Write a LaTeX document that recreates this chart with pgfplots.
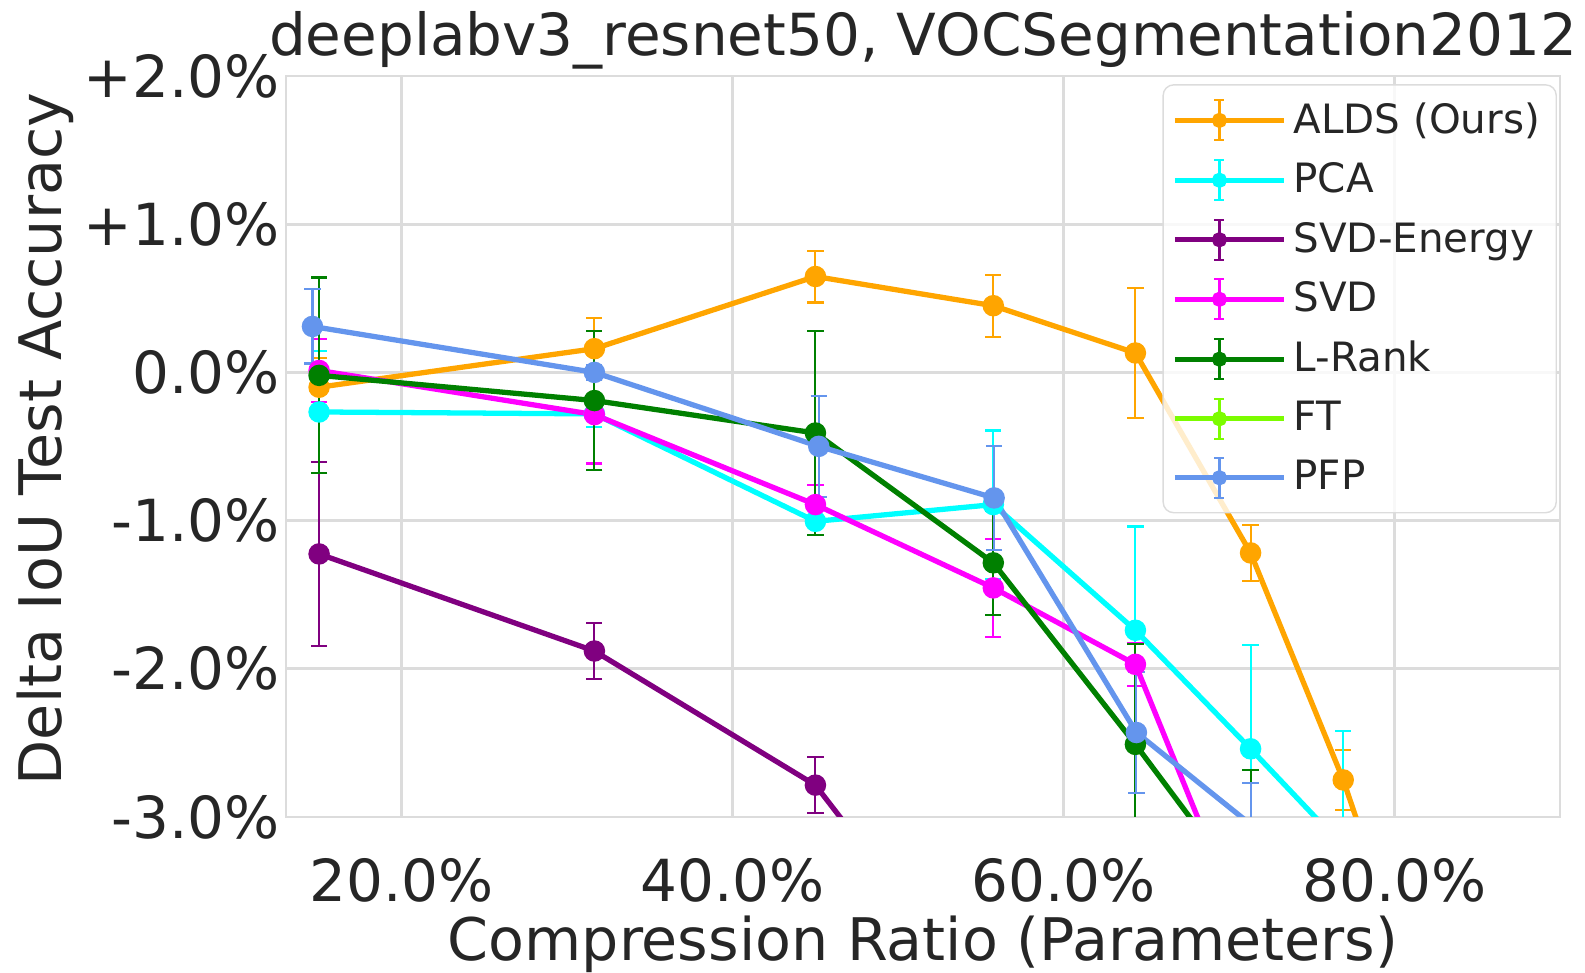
\documentclass[border=0pt]{standalone}
\usepackage{fontspec}
\setmainfont{DejaVu Sans}
\usepackage{pgfplots}
\pgfplotsset{compat=1.18}
\definecolor{txt}{HTML}{262626}
\definecolor{cALDS}{HTML}{FFA500}
\definecolor{cPCA}{HTML}{00FFFF}
\definecolor{cSVDE}{HTML}{800080}
\definecolor{cSVD}{HTML}{FF00FF}
\definecolor{cLR}{HTML}{008000}
\definecolor{cFT}{HTML}{7CFC00}
\definecolor{cPFP}{HTML}{6495ED}
\definecolor{gridc}{HTML}{DCDCDC}
\pgfplotsset{
  ser/.style={color=#1, solid, line width=1.5pt, mark=*, mark size=2.3pt,
    mark options={solid, fill=#1, draw=#1},
    error bars/.cd, y dir=both, y explicit,
    error bar style={line width=0.6pt, color=#1, solid},
    error mark options={rotate=90, mark size=2.3pt, line width=0.6pt, color=#1, solid}},
}
\begin{document}
\begin{tikzpicture}
\begin{axis}[
  name=ax, at={(0,0)}, anchor=south west,
  scale only axis, width=12.74cm, height=7.41cm,
  xmin=13, xmax=90, ymin=-3, ymax=2,
  xtick={20,40,60,80}, xticklabels={20.0\%,40.0\%,60.0\%,80.0\%},
  ytick={-3,-2,-1,0,1,2},
  yticklabels={-3.0\%,-2.0\%,-1.0\%,0.0\%,+1.0\%,+2.0\%},
  grid=major, major grid style={draw=gridc, line width=0.8pt},
  axis line style={draw=gridc, line width=0.8pt},
  major tick length=0pt,
  tick style={draw=none},
  ticklabel style={font=\fontsize{16.5}{19.5}\selectfont, text=txt},
  xticklabel style={anchor=base, yshift=-0.85cm},
  yticklabel style={anchor=east, xshift=0.06cm},
  title={deeplabv3\_resnet50, VOCSegmentation2012},
  title style={font=\fontsize{16.5}{20}\selectfont, text=txt, at={(axis description cs:0.5,1.0283)}, anchor=base, yshift=-6pt},
  xlabel={Compression Ratio (Parameters)},
  xlabel style={font=\fontsize{16.7}{20}\selectfont, text=txt, at={(axis description cs:0.5,-0.1943)}, anchor=base},
  ylabel={Delta IoU Test Accuracy},
  ylabel style={font=\fontsize{16.7}{20}\selectfont, text=txt, at={(axis description cs:-0.1766,0.51)}, anchor=base},
  legend cell align=left,
  legend style={at={(axis description cs:0.9976,0.989)}, anchor=north east,
    font=\fontsize{11.5}{13.5}\selectfont, text=txt,
    draw=gridc, rounded corners=3pt, fill=white, fill opacity=0.8, text opacity=1,
    inner xsep=2.6pt, inner ysep=3pt, row sep=2.9pt},
  legend image code/.code={
    \path (-0.03cm,0cm) -- (1.06cm,0cm);
    \draw[#1, mark=none, line width=1.1pt] (0cm,0cm) -- (0.83cm,0cm);
    \draw[#1, mark=none, line width=0.6pt] (0.415cm,-0.2cm) -- (0.415cm,0.2cm)
       (0.365cm,-0.2cm) -- (0.465cm,-0.2cm) (0.365cm,0.2cm) -- (0.465cm,0.2cm);
    \fill[#1, mark=none] (0.415cm,0cm) circle (1.4pt);
  },
]
% ALDS (Ours)
\addplot[ser=cALDS] table[x=x,y=y,y error=e]{
x y e
15.0 -0.10 0.20
31.64 0.16 0.21
45.0 0.647 0.175
55.75 0.45 0.21
64.34 0.131 0.44
71.3 -1.218 0.19
76.9 -2.75 0.20
80.0 -3.77 0.20
};
\addlegendentry{ALDS (Ours)}
% PCA
\addplot[ser=cPCA] table[x=x,y=y,y error=e]{
x y e
15.0 -0.267 0.41
31.64 -0.28 0.09
45.0 -1.005 0.09
55.75 -0.892 0.50
64.34 -1.74 0.70
71.3 -2.54 0.70
76.9 -3.20 0.78
};
\addlegendentry{PCA}
% SVD-Energy
\addplot[ser=cSVDE] table[x=x,y=y,y error=e]{
x y e
15.0 -1.225 0.62
31.64 -1.88 0.19
45.0 -2.785 0.19
55.75 -4.34 0.19
};
\addlegendentry{SVD-Energy}
% SVD
\addplot[ser=cSVD] table[x=x,y=y,y error=e]{
x y e
15.0 0.013 0.21
31.64 -0.285 0.33
45.0 -0.892 0.135
55.75 -1.454 0.33
64.34 -1.97 0.145
71.3 -3.88 0.20
};
\addlegendentry{SVD}
% L-Rank
\addplot[ser=cLR] table[x=x,y=y,y error=e]{
x y e
15.0 -0.02 0.66
31.64 -0.19 0.47
45.0 -0.409 0.69
55.75 -1.285 0.35
64.34 -2.51 0.68
71.3 -3.55 0.87
};
\addlegendentry{L-Rank}
% FT (no visible points)
\addlegendimage{ser=cFT}
\addlegendentry{FT}
% PFP
\addplot[ser=cPFP] table[x=x,y=y,y error=e]{
x y e
14.6 0.31 0.25
31.64 0.0 0.05
45.2 -0.499 0.34
55.8 -0.847 0.35
64.4 -2.43 0.41
71.3 -3.05 0.28
};
\addlegendentry{PFP}
\end{axis}
\pgfresetboundingbox
\path[use as bounding box] (-2.86cm,-1.56cm) rectangle (12.99cm,8.17cm);
\end{tikzpicture}
\end{document}
